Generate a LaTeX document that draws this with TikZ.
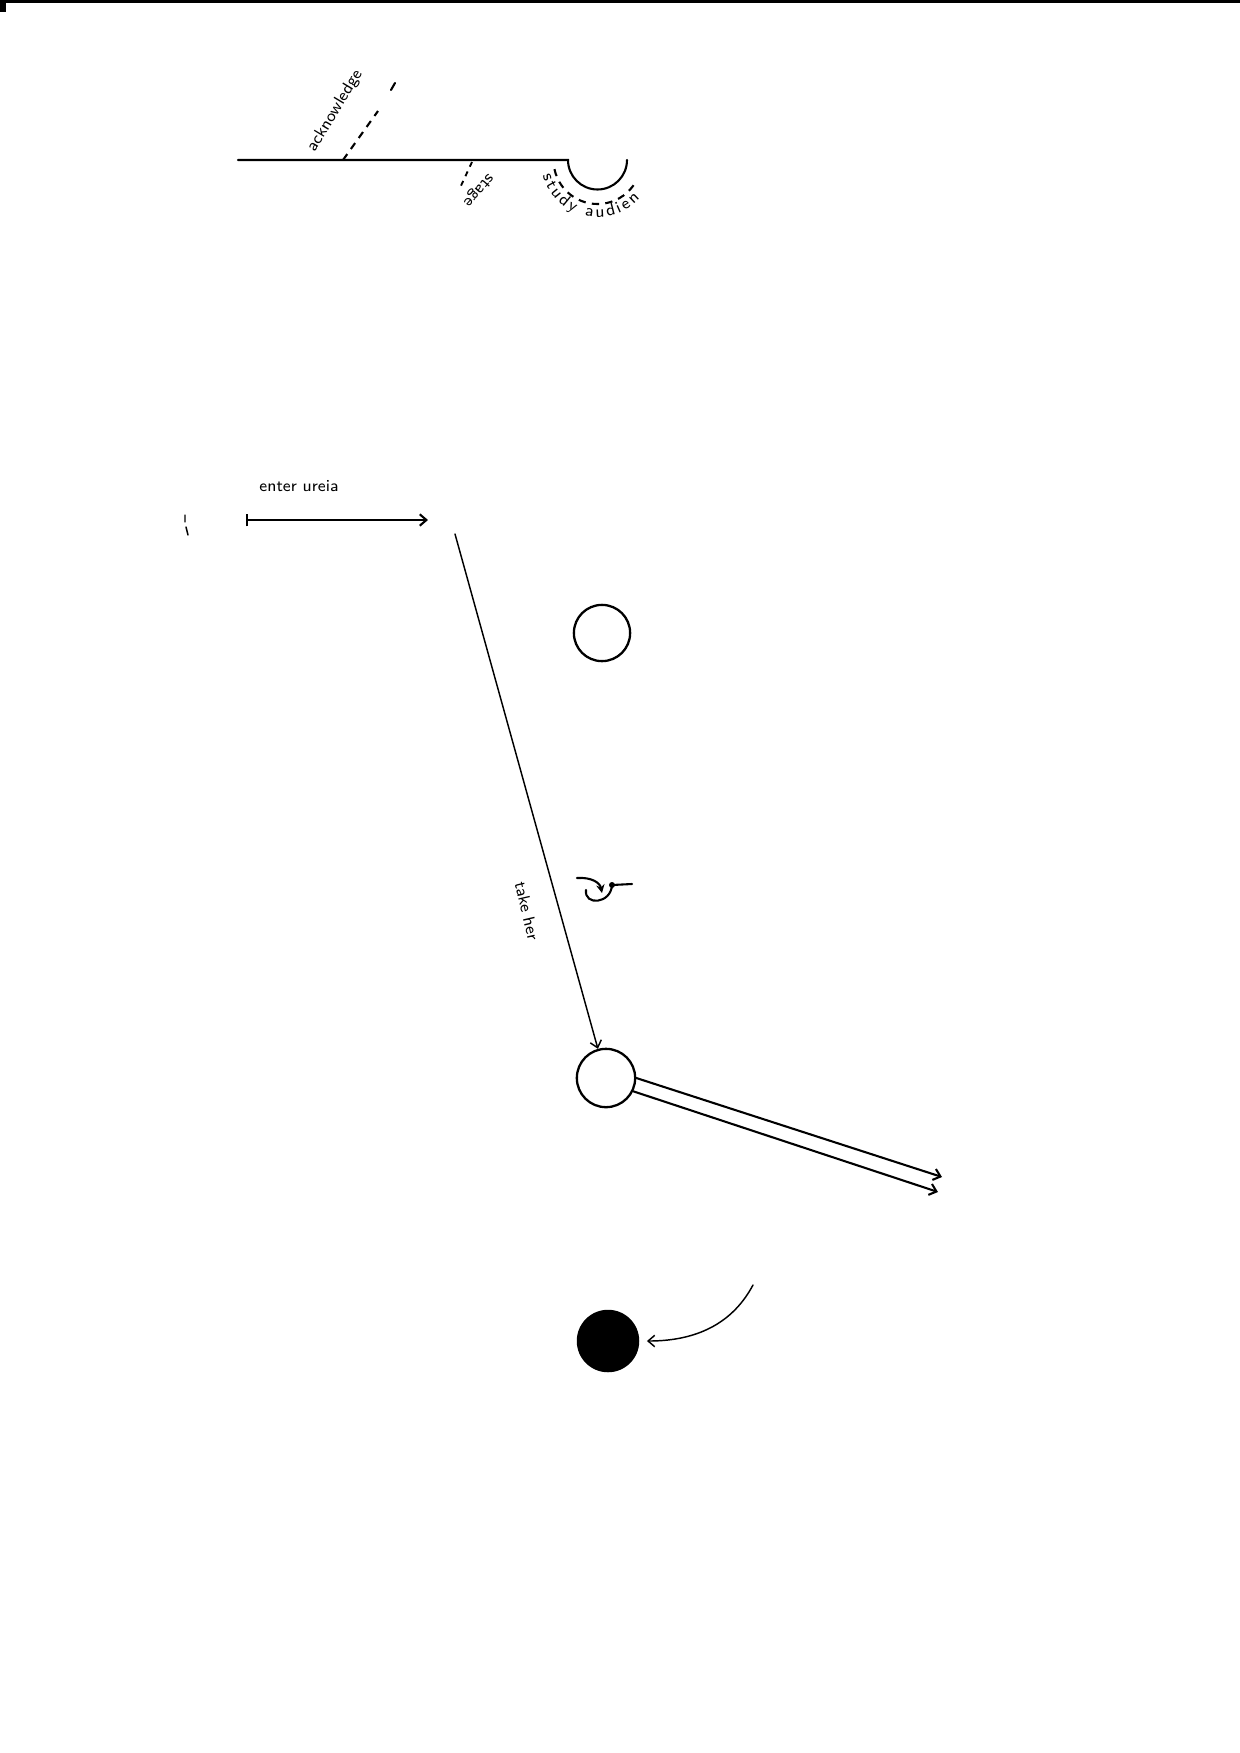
\documentclass[tikz,border=0pt]{standalone}
\usetikzlibrary{arrows.meta,decorations.text}
\begin{document}
\begin{tikzpicture}[x=0.48pt,y=0.48pt,
  pen/.style={line width=1pt,line cap=round},
  thinpen/.style={line width=0.7pt,line cap=round},
  barb/.style={-{Straight Barb[length=3.2pt,width=5.5pt]}},
  lbl/.style={font=\sffamily\fontsize{8}{9}\selectfont,inner sep=0pt},
  ring/.style={circle,draw,line width=1.1pt,inner sep=0pt},
  dsh/.style={line width=1pt,dash pattern=on 3.5pt off 3pt}]
\useasboundingbox (0,0) rectangle (1240,-1753);
% scan border
\fill (0,0) rectangle (1240,-3);
\fill (0,0) rectangle (6,-12);

% ---- top group ----
\coordinate (tl) at (238,-160);
\coordinate (tr) at (568,-160);
\coordinate (hc) at (597.5,-160);
\draw[pen] (tl) -- (tr) arc[start angle=180,end angle=360,radius=29.5];
% acknowledge
\coordinate (ak0) at (343,-160);
\coordinate (ak1) at (378,-111);
\coordinate (ak2) at (391,-90);
\coordinate (ak3) at (395,-83);
\draw[dsh] (ak0) -- (ak1);
\draw[pen] (ak2) -- (ak3);
\node[lbl,rotate=59] (ack) at (335,-111) {acknowledge};
% stage
\coordinate (st0) at (472,-162);
\coordinate (st1) at (459,-190);
\draw[line width=0.9pt,dash pattern=on 2.5pt off 2.5pt] (st0) -- (st1);
\node[lbl,rotate=229] (stage) at (478,-190) {stage};
% study audien
\draw[dsh] (hc) ++(192:44) arc[start angle=192,end angle=330,radius=44];
\path[decorate,decoration={text along path,
   text={|\sffamily\fontsize{8}{9}\selectfont|study audien},
   text align={fit to path}}]
  (hc) ++(196:57) arc[start angle=196,end angle=318,radius=57];

% ---- enter ureia ----
\coordinate (eu0) at (246,-520);
\coordinate (eu1) at (428,-520);
\draw[pen,{Bar[width=6pt]}-{Straight Barb[length=3.2pt,width=5.5pt]}] (eu0) -- (eu1);
\node[lbl] (enter) at (299,-486) {enter ureia};
\coordinate (m0) at (185,-515);
\coordinate (m1) at (185,-522);
\coordinate (m2) at (186,-527);
\coordinate (m3) at (188,-535);
\draw[thinpen] (m0) -- (m1) (m2) -- (m3);

% ---- circles ----
\node[ring,minimum size=27pt] (c1) at (602,-633) {};
\node[ring,minimum size=28pt] (c2) at (606,-1078) {};
\node[circle,fill,inner sep=0pt,minimum size=30pt] (c3) at (608,-1341) {};

% take her
\coordinate (th0) at (455,-534);
\draw[thinpen,barb] (th0) -- (c2);
\node[lbl,rotate=-77] (take) at (527,-911) {take her};

% curl symbol
\coordinate (cu0) at (577,-878);
\coordinate (cu1) at (602,-893);
\coordinate (cu2) at (586,-890);
\coordinate (cu3) at (612,-885);
\coordinate (cu4) at (632,-884);
\draw[pen,-{Stealth[length=4pt,width=4pt]}] (cu0) .. controls (592,-877) and (600,-883) .. (cu1);
\draw[pen] (cu2) .. controls (584,-906) and (611,-904) .. (cu3);
\fill (cu3) circle[radius=3];
\draw[pen] (cu3) -- (cu4);

% double arrow
\coordinate (d1) at (942,-1177);
\coordinate (d2) at (938,-1192);
\draw[pen,barb] (c2.0) -- (d1);
\draw[pen,barb] (c2.-26) -- (d2);

% arrow to black circle
\coordinate (bs) at (753,-1285);
\draw[thinpen,barb,shorten >=3.5pt] (bs) to[out=-118,in=0] (c3.east);
\end{tikzpicture}
\end{document}
